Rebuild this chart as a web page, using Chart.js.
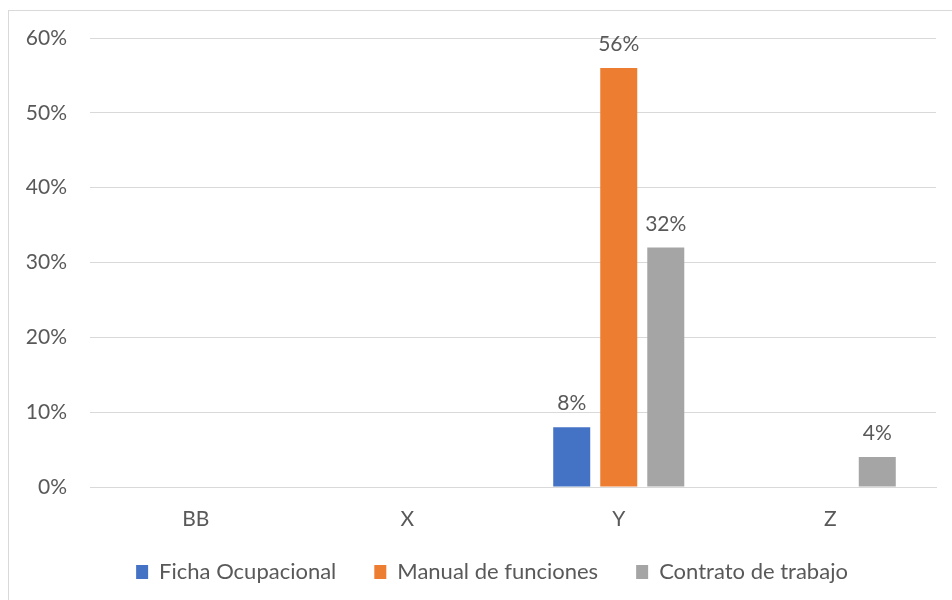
<!DOCTYPE html>
<html>
<head>
<meta charset="utf-8">
<script src="https://cdn.jsdelivr.net/npm/chart.js@4"></script>
<style>
  html, body { margin: 0; padding: 0; background: #fff; overflow: hidden; }
  #wrap { position: relative; width: 952px; height: 600px; }
  #frame { position: absolute; left: 8px; top: 10px; width: 1000px; height: 700px; border: 1px solid #d9d9d9; }
  #chart { position: absolute; left: 0; top: 0; }
</style>
</head>
<body>
<div id="wrap">
  <div id="frame"></div>
  <canvas id="chart" width="952" height="600"></canvas>
</div>
<script>
var categories = ['BB', 'X', 'Y', 'Z'];
var fichaOcupacional = [null, null, 8, null];
var manualFunciones = [null, null, 56, null];
var contratoTrabajo = [null, null, 32, 4];
var yTicks = [0, 10, 20, 30, 40, 50, 60];

var textColor = '#595959';
var fontFamily = 'Lato, "Open Sans", sans-serif';

// value labels above each bar
var barLabels = {
    id: 'barLabels',
    afterDatasetsDraw: function (chart) {
        var ctx = chart.ctx;
        ctx.save();
        ctx.fillStyle = textColor;
        ctx.font = '21px ' + fontFamily;
        ctx.textAlign = 'center';
        ctx.textBaseline = 'alphabetic';
        chart.data.datasets.forEach(function (ds, i) {
            chart.getDatasetMeta(i).data.forEach(function (bar, j) {
                var v = ds.data[j];
                if (v == null) return;
                ctx.fillText(v + '%', bar.x, bar.y - 17);
            });
        });
        ctx.restore();
    }
};

// keep the legend box short so the plot reaches down, then place the row
var legendPlace = {
    id: 'legendPlace',
    beforeUpdate: function (chart) {
        var lg = chart.legend;
        if (!lg || lg._fixedFit) return;
        var fit = lg.fit;
        lg.fit = function () {
            fit.call(this);
            this.height = 67;
        };
        lg._fixedFit = true;
    },
    afterUpdate: function (chart) {
        var lg = chart.legend;
        if (!lg) return;
        var h = lg.height;
        lg.top = 523;
        lg.bottom = lg.top + h;
        lg.left += 24;
        lg.right += 24;
    }
};

var ctx = document.getElementById('chart').getContext('2d');

new Chart(ctx, {
    type: 'bar',
    data: {
        labels: categories,
        datasets: [{
            label: 'Ficha Ocupacional',
            data: fichaOcupacional,
            backgroundColor: '#4472C4'
        }, {
            label: 'Manual de funciones',
            data: manualFunciones,
            backgroundColor: '#ED7D31'
        }, {
            label: 'Contrato de trabajo',
            data: contratoTrabajo,
            backgroundColor: '#A5A5A5'
        }]
    },
    options: {
        responsive: false,
        animation: false,
        categoryPercentage: 0.667,
        barPercentage: 0.787,
        layout: {
            padding: { top: 38, right: 16, bottom: 0, left: 0 }
        },
        plugins: {
            legend: {
                position: 'bottom',
                labels: {
                    boxWidth: 12,
                    boxHeight: 14,
                    padding: 38,
                    color: textColor,
                    font: { family: fontFamily, size: 22 }
                }
            },
            tooltip: { enabled: false }
        },
        scales: {
            x: {
                grid: { display: false, drawTicks: false },
                border: { color: '#d9d9d9', width: 1 },
                ticks: {
                    padding: 20,
                    color: textColor,
                    font: { family: fontFamily, size: 21 }
                },
                afterFit: function (scale) { scale.height = 46; }
            },
            y: {
                min: 0,
                max: 60,
                afterBuildTicks: function (scale) {
                    scale.ticks = yTicks.map(function (v) { return { value: v }; });
                },
                grid: { color: '#d9d9d9', lineWidth: 1, drawTicks: false },
                border: { display: false },
                ticks: {
                    padding: 23,
                    color: textColor,
                    font: { family: fontFamily, size: 21 },
                    callback: function (v) { return v + '%'; }
                },
                afterFit: function (scale) { scale.width = 90; }
            }
        }
    },
    plugins: [barLabels, legendPlace]
});
</script>
</body>
</html>
